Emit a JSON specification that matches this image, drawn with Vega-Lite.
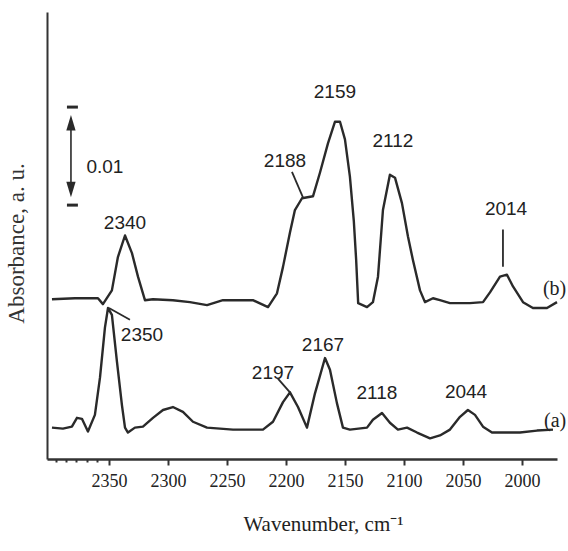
{
  "$schema": "https://vega.github.io/schema/vega-lite/v6.json",
  "width": 510,
  "height": 447,
  "autosize": {"type": "none"},
  "padding": {"left": 47, "top": 12, "right": 11, "bottom": 92},
  "background": "white",
  "config": {"view": {"stroke": null}},
  "datasets": {
    "spectra": [
      {"series": "b", "wn": 2398.3, "abs": 0.0163},
      {"series": "b", "wn": 2378.8, "abs": 0.0164},
      {"series": "b", "wn": 2359.3, "abs": 0.0164},
      {"series": "b", "wn": 2355.1, "abs": 0.0158},
      {"series": "b", "wn": 2347.5, "abs": 0.0172},
      {"series": "b", "wn": 2342.4, "abs": 0.0206},
      {"series": "b", "wn": 2336.4, "abs": 0.0228},
      {"series": "b", "wn": 2330.5, "abs": 0.0210},
      {"series": "b", "wn": 2325.4, "abs": 0.0186},
      {"series": "b", "wn": 2319.5, "abs": 0.0162},
      {"series": "b", "wn": 2312.7, "abs": 0.0163},
      {"series": "b", "wn": 2295.8, "abs": 0.0162},
      {"series": "b", "wn": 2281.4, "abs": 0.0160},
      {"series": "b", "wn": 2266.9, "abs": 0.0157},
      {"series": "b", "wn": 2253.4, "abs": 0.0162},
      {"series": "b", "wn": 2228.0, "abs": 0.0162},
      {"series": "b", "wn": 2215.2, "abs": 0.0155},
      {"series": "b", "wn": 2207.6, "abs": 0.0169},
      {"series": "b", "wn": 2202.5, "abs": 0.0196},
      {"series": "b", "wn": 2196.6, "abs": 0.0231},
      {"series": "b", "wn": 2192.4, "abs": 0.0254},
      {"series": "b", "wn": 2186.4, "abs": 0.0266},
      {"series": "b", "wn": 2177.1, "abs": 0.0268},
      {"series": "b", "wn": 2171.2, "abs": 0.0292},
      {"series": "b", "wn": 2164.4, "abs": 0.0322},
      {"series": "b", "wn": 2158.5, "abs": 0.0344},
      {"series": "b", "wn": 2154.2, "abs": 0.0344},
      {"series": "b", "wn": 2150.0, "abs": 0.0326},
      {"series": "b", "wn": 2145.8, "abs": 0.0288},
      {"series": "b", "wn": 2142.5, "abs": 0.0243},
      {"series": "b", "wn": 2140.5, "abs": 0.0203},
      {"series": "b", "wn": 2138.8, "abs": 0.0159},
      {"series": "b", "wn": 2131.3, "abs": 0.0155},
      {"series": "b", "wn": 2126.3, "abs": 0.0160},
      {"series": "b", "wn": 2122.0, "abs": 0.0186},
      {"series": "b", "wn": 2117.8, "abs": 0.0254},
      {"series": "b", "wn": 2111.9, "abs": 0.0290},
      {"series": "b", "wn": 2107.6, "abs": 0.0287},
      {"series": "b", "wn": 2101.7, "abs": 0.0261},
      {"series": "b", "wn": 2096.6, "abs": 0.0227},
      {"series": "b", "wn": 2092.4, "abs": 0.0203},
      {"series": "b", "wn": 2086.4, "abs": 0.0172},
      {"series": "b", "wn": 2082.2, "abs": 0.0160},
      {"series": "b", "wn": 2075.4, "abs": 0.0164},
      {"series": "b", "wn": 2069.5, "abs": 0.0162},
      {"series": "b", "wn": 2061.0, "abs": 0.0159},
      {"series": "b", "wn": 2044.1, "abs": 0.0159},
      {"series": "b", "wn": 2033.0, "abs": 0.0160},
      {"series": "b", "wn": 2027.1, "abs": 0.0170},
      {"series": "b", "wn": 2018.6, "abs": 0.0186},
      {"series": "b", "wn": 2012.7, "abs": 0.0188},
      {"series": "b", "wn": 2007.6, "abs": 0.0176},
      {"series": "b", "wn": 1999.1, "abs": 0.0160},
      {"series": "b", "wn": 1990.7, "abs": 0.0154},
      {"series": "b", "wn": 1978.8, "abs": 0.0154},
      {"series": "b", "wn": 1970.3, "abs": 0.0160},
      {"series": "a", "wn": 2398.3, "abs": 0.0032},
      {"series": "a", "wn": 2389.0, "abs": 0.0031},
      {"series": "a", "wn": 2381.4, "abs": 0.0033},
      {"series": "a", "wn": 2377.1, "abs": 0.0042},
      {"series": "a", "wn": 2372.9, "abs": 0.0041},
      {"series": "a", "wn": 2367.8, "abs": 0.0028},
      {"series": "a", "wn": 2361.9, "abs": 0.0045},
      {"series": "a", "wn": 2357.6, "abs": 0.0083},
      {"series": "a", "wn": 2353.4, "abs": 0.0134},
      {"series": "a", "wn": 2350.8, "abs": 0.0154},
      {"series": "a", "wn": 2347.5, "abs": 0.0147},
      {"series": "a", "wn": 2343.2, "abs": 0.0099},
      {"series": "a", "wn": 2339.0, "abs": 0.0055},
      {"series": "a", "wn": 2336.4, "abs": 0.0032},
      {"series": "a", "wn": 2333.9, "abs": 0.0027},
      {"series": "a", "wn": 2328.0, "abs": 0.0032},
      {"series": "a", "wn": 2321.2, "abs": 0.0033},
      {"series": "a", "wn": 2312.7, "abs": 0.0042},
      {"series": "a", "wn": 2304.2, "abs": 0.0050},
      {"series": "a", "wn": 2295.8, "abs": 0.0053},
      {"series": "a", "wn": 2287.3, "abs": 0.0048},
      {"series": "a", "wn": 2278.8, "abs": 0.0038},
      {"series": "a", "wn": 2266.9, "abs": 0.0032},
      {"series": "a", "wn": 2244.9, "abs": 0.0030},
      {"series": "a", "wn": 2219.5, "abs": 0.0030},
      {"series": "a", "wn": 2211.0, "abs": 0.0038},
      {"series": "a", "wn": 2202.5, "abs": 0.0058},
      {"series": "a", "wn": 2196.6, "abs": 0.0068},
      {"series": "a", "wn": 2189.8, "abs": 0.0053},
      {"series": "a", "wn": 2182.2, "abs": 0.0032},
      {"series": "a", "wn": 2175.4, "abs": 0.0067},
      {"series": "a", "wn": 2166.9, "abs": 0.0103},
      {"series": "a", "wn": 2162.7, "abs": 0.0091},
      {"series": "a", "wn": 2156.8, "abs": 0.0057},
      {"series": "a", "wn": 2151.7, "abs": 0.0032},
      {"series": "a", "wn": 2145.8, "abs": 0.0030},
      {"series": "a", "wn": 2131.3, "abs": 0.0032},
      {"series": "a", "wn": 2126.3, "abs": 0.0040},
      {"series": "a", "wn": 2118.6, "abs": 0.0047},
      {"series": "a", "wn": 2111.9, "abs": 0.0037},
      {"series": "a", "wn": 2105.1, "abs": 0.0030},
      {"series": "a", "wn": 2097.4, "abs": 0.0032},
      {"series": "a", "wn": 2088.9, "abs": 0.0027},
      {"series": "a", "wn": 2077.9, "abs": 0.0021},
      {"series": "a", "wn": 2069.5, "abs": 0.0024},
      {"series": "a", "wn": 2061.0, "abs": 0.0030},
      {"series": "a", "wn": 2052.5, "abs": 0.0043},
      {"series": "a", "wn": 2045.8, "abs": 0.0050},
      {"series": "a", "wn": 2039.8, "abs": 0.0045},
      {"series": "a", "wn": 2033.0, "abs": 0.0033},
      {"series": "a", "wn": 2025.4, "abs": 0.0027},
      {"series": "a", "wn": 2016.1, "abs": 0.0027},
      {"series": "a", "wn": 2001.7, "abs": 0.0027},
      {"series": "a", "wn": 1987.3, "abs": 0.0029},
      {"series": "a", "wn": 1973.7, "abs": 0.0030}
    ],
    "leaders": [
      {"wn": 2194.9, "wn2": 2185.6, "abs": 0.0293, "abs2": 0.0267},
      {"wn": 2016.1, "wn2": 2016.1, "abs": 0.0234, "abs2": 0.0196},
      {"wn": 2350.0, "wn2": 2332.2, "abs": 0.0154, "abs2": 0.0142},
      {"wn": 2206.8, "wn2": 2196.6, "abs": 0.0082, "abs2": 0.0068}
    ],
    "scalebar": [
      {"wn": 2385.6, "wn2": 2376.3, "abs": 0.0359, "abs2": 0.0359},
      {"wn": 2385.6, "wn2": 2376.3, "abs": 0.0259, "abs2": 0.0259}
    ],
    "arrowline": [
      {"wn": 2382.2, "wn2": 2382.2, "abs": 0.0344, "abs2": 0.0273}
    ],
    "arrowheads": [
      {"wn": 2382.2, "abs": 0.0343, "dir": "up"},
      {"wn": 2382.2, "abs": 0.0275, "dir": "down"}
    ],
    "peaklabels": [
      {"wn": 2336.4, "abs": 0.0241, "label": "2340"},
      {"wn": 2158.5, "abs": 0.0374, "label": "2159"},
      {"wn": 2200.8, "abs": 0.0304, "label": "2188"},
      {"wn": 2109.3, "abs": 0.0324, "label": "2112"},
      {"wn": 2013.5, "abs": 0.0255, "label": "2014"},
      {"wn": 2322.0, "abs": 0.0126, "label": "2350"},
      {"wn": 2211.0, "abs": 0.0088, "label": "2197"},
      {"wn": 2168.6, "abs": 0.0116, "label": "2167"},
      {"wn": 2122.9, "abs": 0.0067, "label": "2118"},
      {"wn": 2047.4, "abs": 0.0068, "label": "2044"},
      {"wn": 2353.4, "abs": 0.0298, "label": "0.01"}
    ],
    "serieslabels": [
      {"wn": 1962.5, "abs": 0.0173, "label": "(b)"},
      {"wn": 1962.5, "abs": 0.0039, "label": "(a)"}
    ]
  },
  "encoding": {
    "x": {
      "field": "wn", "type": "quantitative",
      "scale": {"domain": [1970.3, 2402.5], "reverse": true, "nice": false, "zero": false},
      "axis": {
        "values": [2395, 2386, 2378, 2369, 2360, 2350, 2300, 2250, 2200, 2150, 2100, 2050, 2000],
        "labelExpr": "datum.value % 50 === 0 ? datum.label : ''",
        "format": "d",
        "labelOverlap": false,
        "labelFlush": false,
        "tickSize": {"condition": {"test": "datum.value % 50 === 0", "value": 6}, "value": 3},
        "tickColor": "#333",
        "tickWidth": 2,
        "domainColor": "#333",
        "domainWidth": 2.5,
        "grid": false,
        "labelFont": "Liberation Serif",
        "labelFontSize": 18,
        "labelColor": "#222",
        "labelPadding": 7,
        "title": "Wavenumber, cm⁻¹",
        "titleFont": "Liberation Serif",
        "titleFontSize": 21,
        "titleFontWeight": "normal",
        "titleColor": "#222",
        "titleX": 276,
        "titleY": 65,
        "titleBaseline": "middle",
        "titleAlign": "center"
      }
    },
    "y": {
      "field": "abs", "type": "quantitative",
      "scale": {"domain": [0, 0.0456], "nice": false, "zero": false},
      "axis": {
        "ticks": false,
        "labels": false,
        "grid": false,
        "domainColor": "#333",
        "domainWidth": 2,
        "title": "Absorbance, a. u.",
        "titleFont": "Liberation Serif",
        "titleFontSize": 23,
        "titleFontWeight": "normal",
        "titleColor": "#333",
        "titleX": -31,
        "titleY": 231,
        "titleBaseline": "middle",
        "titleAlign": "center",
        "titleAngle": -90
      }
    }
  },
  "layer": [
    {
      "data": {"name": "spectra"},
      "mark": {"type": "line", "color": "#2a2a2a", "strokeWidth": 2.4, "strokeJoin": "round"},
      "encoding": {
        "detail": {"field": "series", "type": "nominal"}
      }
    },
    {
      "data": {"name": "leaders"},
      "mark": {"type": "rule", "color": "#2a2a2a", "strokeWidth": 1.8},
      "encoding": {
        "x2": {"field": "wn2"},
        "y2": {"field": "abs2"}
      }
    },
    {
      "data": {"name": "scalebar"},
      "mark": {"type": "rule", "color": "#2a2a2a", "strokeWidth": 3},
      "encoding": {
        "x2": {"field": "wn2"},
        "y2": {"field": "abs2"}
      }
    },
    {
      "data": {"name": "arrowline"},
      "mark": {"type": "rule", "color": "#2a2a2a", "strokeWidth": 1.6},
      "encoding": {
        "x2": {"field": "wn2"},
        "y2": {"field": "abs2"}
      }
    },
    {
      "data": {"name": "arrowheads"},
      "mark": {"type": "point", "filled": true, "color": "#2a2a2a", "opacity": 1, "size": 240},
      "encoding": {
        "shape": {
          "field": "dir", "type": "nominal",
          "scale": {"domain": ["up", "down"], "range": ["M -0.6 1 L 0 -1 L 0.6 1 Z", "M -0.6 -1 L 0 1 L 0.6 -1 Z"]},
          "legend": null
        }
      }
    },
    {
      "data": {"name": "peaklabels"},
      "mark": {"type": "text", "font": "Liberation Sans", "fontSize": 19, "color": "#222", "align": "center", "baseline": "middle"},
      "encoding": {
        "text": {"field": "label", "type": "nominal"}
      }
    },
    {
      "data": {"name": "serieslabels"},
      "mark": {"type": "text", "font": "Liberation Serif", "fontSize": 20, "color": "#222", "align": "right", "baseline": "middle"},
      "encoding": {
        "text": {"field": "label", "type": "nominal"}
      }
    }
  ]
}
